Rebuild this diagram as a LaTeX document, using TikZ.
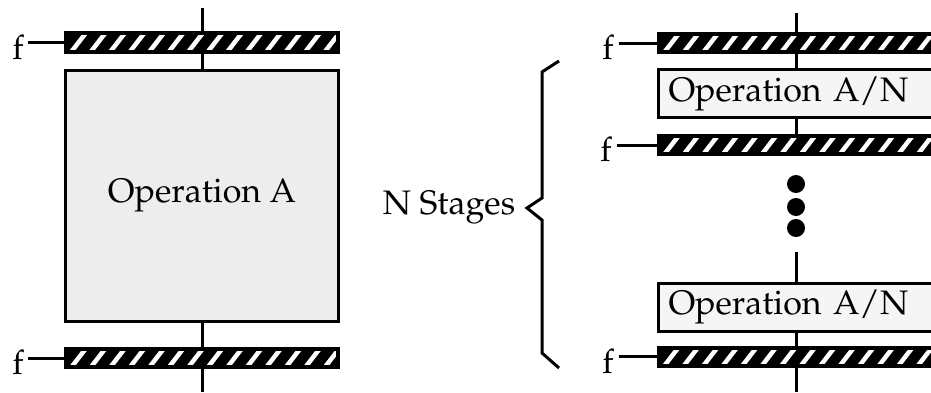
\documentclass[tikz,border=0pt]{standalone}
\usepackage[T1]{fontenc}
\usepackage{mathpazo}

\tikzset{
  filterbar/.style={draw, fill=black, line width=4pt, minimum height=18pt, inner sep=0pt,
    path picture={
      \foreach \k in {0,...,15}
        \draw[white, line width=4.5pt]
          ([xshift=\k*19.5pt+4pt, yshift=-2pt]path picture bounding box.south west) -- ++(17pt,22pt);
    }},
  opbox/.style={draw, line width=3pt, inner sep=0pt},
  dot/.style={circle, fill=black, minimum size=18pt, inner sep=0pt},
}

\begin{document}
\begin{tikzpicture}[x=1pt, y=1pt, line width=3pt, font=\fontsize{34}{40}\selectfont]
  \useasboundingbox (0,0) rectangle (931,392);
  \clip (0,0) rectangle (931,392);
  % Single operation
  \node[filterbar, minimum width=272pt] (lbartop) at (202,349.5) {};
  \node[opbox, fill=black!7, minimum width=273pt, minimum height=251pt] (opa) at (202,196) {Operation A};
  \node[filterbar, minimum width=272pt] (lbarbot) at (202,34) {};
  \coordinate (ltop) at (202,384);
  \coordinate (lbot) at (202,0);
  \draw (ltop) -- (lbartop) -- (opa) -- (lbarbot) -- (lbot);
  % f inputs (left)
  \node[anchor=base] (fltop) at (18,333) {f};
  \node[anchor=base] (flbot) at (18,17.5) {f};
  \draw (fltop.east |- lbartop) -- (lbartop.west);
  \draw (flbot.east |- lbarbot) -- (lbarbot.west);
  % N stages
  \node[filterbar, minimum width=274pt] (rbartop) at (796,349) {};
  \node[opbox, fill=black!4, minimum width=275pt, minimum height=48pt, inner xsep=10pt,
    text width=255pt, align=left] (rop1) at (796,298.5) {Operation A/N};
  \node[filterbar, minimum width=274pt] (rbarmid) at (796,247) {};
  \node[dot] (dot1) at (796,208) {};
  \node[dot] (dot2) at (796,185) {};
  \node[dot] (dot3) at (796,164) {};
  \node[opbox, fill=black!4, minimum width=275pt, minimum height=48pt, inner xsep=10pt,
    text width=255pt, align=left] (rop2) at (796,85) {Operation A/N};
  \node[filterbar, minimum width=274pt] (rbarbot) at (796,35.5) {};
  \coordinate (rtop) at (796,379);
  \coordinate (rmid) at (796,140);
  \coordinate (rbot) at (796,0);
  \draw (rtop) -- (rbartop) -- (rop1) -- (rbarmid);
  \draw (rmid) -- (rop2) -- (rbarbot) -- (rbot);
  % f inputs (right)
  \node[anchor=base] (frtop) at (608,332.5) {f};
  \node[anchor=base] (frmid) at (606,230.5) {f};
  \node[anchor=base] (frbot) at (608,19) {f};
  \draw (frtop.east |- rbartop) -- (rbartop.west);
  \draw (frmid.east |- rbarmid) -- (rbarmid.west);
  \draw (frbot.east |- rbarbot) -- (rbarbot.west);
  % Brace
  \node[anchor=base east] (stages) at (520,178) {N Stages};
  \draw[line join=miter] (559,331) -- (542,320) -- (542,194) -- (527,184)
    -- (542,172) -- (542,39) -- (559,24);
\end{tikzpicture}
\end{document}
